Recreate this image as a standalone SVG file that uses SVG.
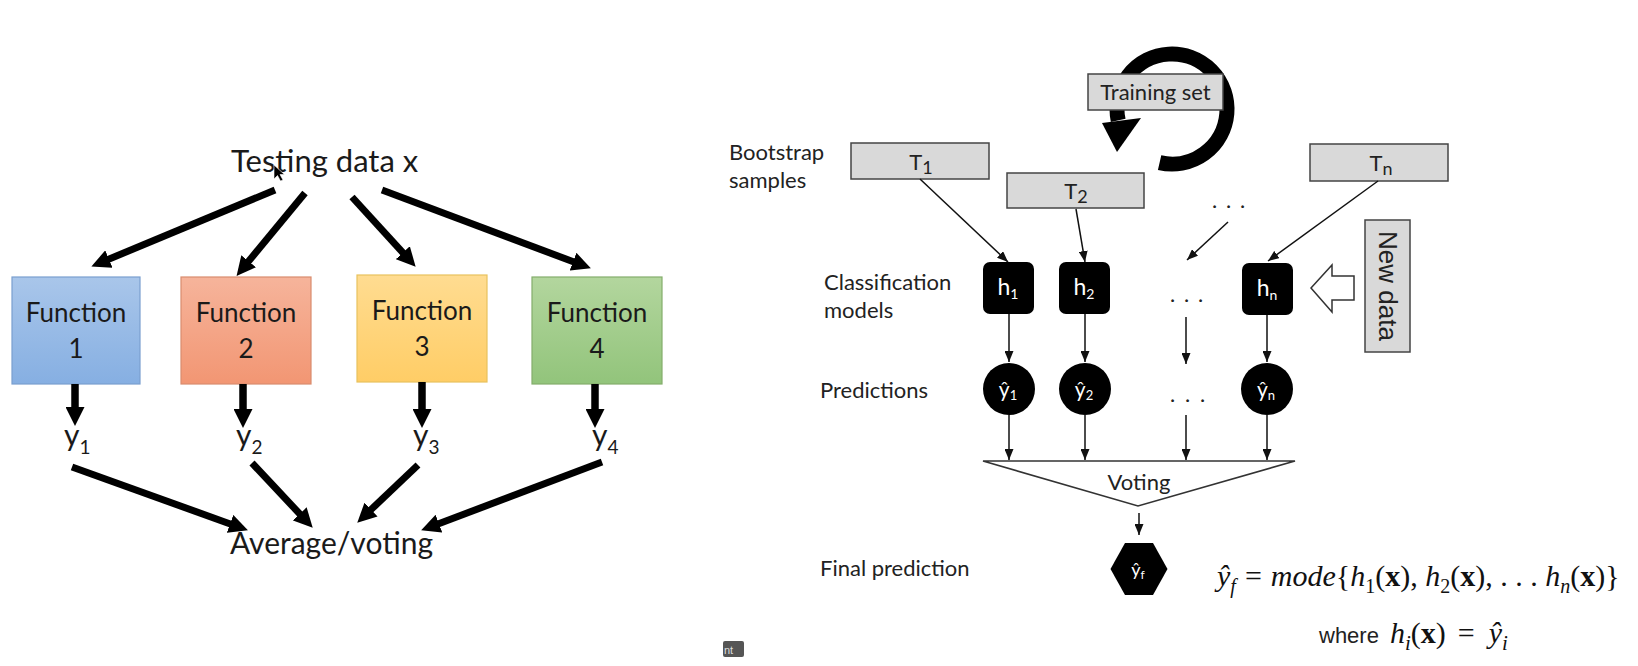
<svg xmlns="http://www.w3.org/2000/svg" width="1638" height="666" viewBox="0 0 1638 666">
<style>
.lbl{font-family:Lato,"Noto Sans",sans-serif;fill:#1a1a1a}
.big{font-size:30px}
.fn{font-size:26px;text-anchor:middle}
.side{font-family:Lato,"Noto Sans",sans-serif;font-size:22px;fill:#222}
.thick{stroke:#000;stroke-width:7;fill:none;marker-end:url(#bigHead)}
.vthick{stroke:#000;stroke-width:7.5;fill:none;marker-end:url(#bigHead)}
.thin{stroke:#111;stroke-width:1.5;fill:none;marker-end:url(#smallHead)}
.gbox{fill:#d9d9d9;stroke:#444;stroke-width:1.5}
.wt{font-family:Lato,"Noto Sans",sans-serif;fill:#fff;text-anchor:middle}
.math{font-family:"Liberation Serif","Times New Roman",serif;font-size:30px;fill:#111}
.it{font-style:italic}
</style>
<defs>
<marker id="bigHead" viewBox="0 0 19 19" refX="1" refY="9.5" markerWidth="19" markerHeight="19" markerUnits="userSpaceOnUse" orient="auto">
<path d="M0,0 L19,9.5 L0,19 Z" fill="#000"/>
</marker>
<marker id="smallHead" viewBox="0 0 11 9" refX="11" refY="4.5" markerWidth="11" markerHeight="9" markerUnits="userSpaceOnUse" orient="auto">
<path d="M0,0 L11,4.5 L0,9 Z" fill="#111"/>
</marker>
<linearGradient id="gBlue" x1="0" y1="0" x2="0" y2="1"><stop offset="0" stop-color="#a9c6ea"/><stop offset="1" stop-color="#86afe2"/></linearGradient>
<linearGradient id="gOrange" x1="0" y1="0" x2="0" y2="1"><stop offset="0" stop-color="#f6b49b"/><stop offset="1" stop-color="#f29673"/></linearGradient>
<linearGradient id="gYellow" x1="0" y1="0" x2="0" y2="1"><stop offset="0" stop-color="#ffdc91"/><stop offset="1" stop-color="#ffcd66"/></linearGradient>
<linearGradient id="gGreen" x1="0" y1="0" x2="0" y2="1"><stop offset="0" stop-color="#b3d69e"/><stop offset="1" stop-color="#92c47b"/></linearGradient>
</defs>
<rect width="1638" height="666" fill="#fff"/>

<!-- LEFT DIAGRAM -->
<g id="testing-data">
<text class="lbl" font-size="31" x="231" y="172">Testing data x</text>
<path d="M274,165 L274,179 L277.5,175.5 L280.5,181 L283,180 L280,174.5 L284.5,174.5 Z" fill="#000" stroke="#fff" stroke-width="0.6"/>
</g>
<g id="function1">
<rect x="12" y="277" width="128" height="107" fill="url(#gBlue)" stroke="#7a9fcf" stroke-width="1.2"/>
<text class="lbl fn" x="76" y="322">Function</text>
<text class="lbl fn" x="76" y="358">1</text>
</g>
<g id="function2">
<rect x="181" y="277" width="130" height="107" fill="url(#gOrange)" stroke="#d98c6e" stroke-width="1.2"/>
<text class="lbl fn" x="246" y="322">Function</text>
<text class="lbl fn" x="246" y="358">2</text>
</g>
<g id="function3">
<rect x="357" y="275" width="130" height="107" fill="url(#gYellow)" stroke="#e8c25e" stroke-width="1.2"/>
<text class="lbl fn" x="422" y="320">Function</text>
<text class="lbl fn" x="422" y="356">3</text>
</g>
<g id="function4">
<rect x="532" y="277" width="130" height="107" fill="url(#gGreen)" stroke="#84ad6c" stroke-width="1.2"/>
<text class="lbl fn" x="597" y="322">Function</text>
<text class="lbl fn" x="597" y="358">4</text>
</g>
<g id="y1"><text class="lbl big" x="64" y="446">y<tspan font-size="19" dy="8">1</tspan></text></g>
<g id="y2"><text class="lbl big" x="236" y="446">y<tspan font-size="19" dy="8">2</tspan></text></g>
<g id="y3"><text class="lbl big" x="413" y="446">y<tspan font-size="19" dy="8">3</tspan></text></g>
<g id="y4"><text class="lbl big" x="592" y="446">y<tspan font-size="19" dy="8">4</tspan></text></g>
<g id="average-voting"><text class="lbl big" x="230" y="554">Average/voting</text></g>

<g id="left-connectors">
<line class="thick" x1="275" y1="190" x2="108" y2="259.5"/>
<line class="thick" x1="305" y1="193" x2="248" y2="262"/>
<line class="thick" x1="352" y1="197" x2="403.5" y2="253.4"/>
<line class="thick" x1="382" y1="190" x2="574" y2="262"/>
<line class="vthick" x1="75" y1="384" x2="75" y2="408"/>
<line class="vthick" x1="243" y1="384" x2="243" y2="410"/>
<line class="vthick" x1="422" y1="382" x2="422" y2="410"/>
<line class="vthick" x1="595" y1="384" x2="595" y2="410"/>
<line class="thick" x1="72" y1="467" x2="231" y2="524.2"/>
<line class="thick" x1="252" y1="463" x2="300.4" y2="514.6"/>
<line class="thick" x1="418" y1="465" x2="370.3" y2="510.3"/>
<line class="thick" x1="602" y1="462" x2="438" y2="524"/>
</g>

<!-- RIGHT DIAGRAM -->
<g id="row-labels">
<text class="side" x="729" y="160">Bootstrap</text>
<text class="side" x="729" y="188">samples</text>
<text class="side" x="824" y="290">Classification</text>
<text class="side" x="824" y="318">models</text>
<text class="side" x="820" y="398">Predictions</text>
<text class="side" x="820" y="576">Final prediction</text>
</g>

<g id="training-set">
<path d="M1159.6,162.6 A55,55 0 1 0 1118.2,120.4" fill="none" stroke="#000" stroke-width="15"/>
<polygon points="1102,123 1141,118 1117,152" fill="#000"/>
<rect class="gbox" x="1088" y="74" width="135" height="36"/>
<text class="side" x="1155.5" y="100" font-size="23.5" text-anchor="middle" fill="#222">Training set</text>
</g>

<g id="T1">
<rect class="gbox" x="851" y="143" width="138" height="36"/>
<text class="side" x="921" y="170" font-size="30" text-anchor="middle">T<tspan font-size="18" dy="4">1</tspan></text>
</g>
<g id="T2">
<rect class="gbox" x="1007" y="173" width="137" height="35"/>
<text class="side" x="1076" y="199" font-size="30" text-anchor="middle">T<tspan font-size="18" dy="4">2</tspan></text>
</g>
<g id="Tn">
<rect class="gbox" x="1310" y="144" width="138" height="37"/>
<text class="side" x="1381" y="171" font-size="30" text-anchor="middle">T<tspan font-size="18" dy="4">n</tspan></text>
</g>
<g id="dots-top"><text class="side" x="1212 1226 1240" y="208">...</text></g>

<g id="h1">
<rect x="983" y="262" width="51" height="52" rx="7" fill="#000"/>
<text class="wt" x="1008" y="295" font-size="23">h<tspan font-size="14" dy="4">1</tspan></text>
</g>
<g id="h2">
<rect x="1059" y="262" width="51" height="52" rx="7" fill="#000"/>
<text class="wt" x="1084" y="295" font-size="23">h<tspan font-size="14" dy="4">2</tspan></text>
</g>
<g id="dots-mid"><text class="side" x="1170 1184 1198" y="302">...</text></g>
<g id="hn">
<rect x="1242" y="263" width="51" height="52" rx="7" fill="#000"/>
<text class="wt" x="1267" y="296" font-size="23">h<tspan font-size="14" dy="4">n</tspan></text>
</g>

<g id="new-data">
<polygon points="1311,288 1332,265 1332,276 1354,276 1354,300 1332,300 1332,312" fill="#fff" stroke="#333" stroke-width="1.5"/>
<rect class="gbox" x="1365" y="220" width="45" height="132"/>
<text transform="translate(1387.5,286) rotate(90)" x="0" y="9" text-anchor="middle" font-family="'Liberation Sans',Arial,sans-serif" font-size="26" fill="#222">New data</text>
</g>

<g id="yhat1">
<circle cx="1009" cy="389" r="26" fill="#000"/>
<text class="wt" x="1008" y="397" font-size="21">ŷ<tspan font-size="13" dy="3">1</tspan></text>
</g>
<g id="yhat2">
<circle cx="1085" cy="389" r="26" fill="#000"/>
<text class="wt" x="1084" y="397" font-size="21">ŷ<tspan font-size="13" dy="3">2</tspan></text>
</g>
<g id="dots-pred"><text class="side" x="1170 1185 1200" y="402">...</text></g>
<g id="yhatn">
<circle cx="1267" cy="389" r="26" fill="#000"/>
<text class="wt" x="1266" y="397" font-size="21">ŷ<tspan font-size="13" dy="3">n</tspan></text>
</g>

<g id="voting">
<polygon points="983,461 1295,461 1138,506" fill="#fff" stroke="#333" stroke-width="1.6"/>
<text class="side" x="1139" y="490" font-size="28" text-anchor="middle">Voting</text>
</g>

<g id="yhat-f">
<polygon points="1110.5,569 1125,543 1153,543 1167.5,569 1153,595 1125,595" fill="#000"/>
<text class="wt" x="1138" y="576" font-size="18">ŷ<tspan font-size="12" dy="3">f</tspan></text>
</g>

<g id="formula">
<text class="math" x="1217" y="586"><tspan class="it">ŷ</tspan><tspan class="it" font-size="20" dy="7">f</tspan><tspan dy="-7" dx="9">=</tspan><tspan class="it" dx="9">mode</tspan>{<tspan class="it">h</tspan><tspan font-size="20" dy="7">1</tspan><tspan dy="-7">(</tspan><tspan font-weight="bold">x</tspan>), <tspan class="it">h</tspan><tspan font-size="20" dy="7">2</tspan><tspan dy="-7">(</tspan><tspan font-weight="bold">x</tspan>), . . . <tspan class="it">h</tspan><tspan class="it" font-size="20" dy="7">n</tspan><tspan dy="-7">(</tspan><tspan font-weight="bold">x</tspan>)}</text>
<text x="1319" y="643" font-family="'Liberation Sans',Arial,sans-serif" font-size="22" fill="#222">where</text>
<text class="math" x="1390" y="643" font-size="31"><tspan class="it">h</tspan><tspan class="it" font-size="21" dy="7">i</tspan><tspan dy="-7">(</tspan><tspan font-weight="bold">x</tspan>)<tspan dx="12">=</tspan><tspan class="it" dx="14">ŷ</tspan><tspan class="it" font-size="21" dy="7">i</tspan></text>
</g>

<g id="right-connectors">
<line class="thin" x1="920" y1="179" x2="1008" y2="262"/>
<line class="thin" x1="1076" y1="209" x2="1085" y2="262"/>
<line class="thin" x1="1228" y1="222" x2="1187" y2="260"/>
<line class="thin" x1="1378" y1="181" x2="1268" y2="261"/>
<line class="thin" x1="1009" y1="314" x2="1009" y2="362"/>
<line class="thin" x1="1085" y1="314" x2="1085" y2="362"/>
<line class="thin" x1="1186" y1="317" x2="1186" y2="364"/>
<line class="thin" x1="1267" y1="315" x2="1267" y2="362"/>
<line class="thin" x1="1009" y1="415" x2="1009" y2="460"/>
<line class="thin" x1="1085" y1="415" x2="1085" y2="460"/>
<line class="thin" x1="1186" y1="415" x2="1186" y2="460"/>
<line class="thin" x1="1267" y1="415" x2="1267" y2="460"/>
<line class="thin" x1="1139" y1="513" x2="1139" y2="535"/>
</g>

<g id="ui-tab">
<rect x="723" y="641" width="21" height="16" rx="2" fill="#555"/>
<text x="724" y="654" font-family="'Liberation Sans',Arial,sans-serif" font-size="11" fill="#ddd">nt</text>
</g>
</svg>
